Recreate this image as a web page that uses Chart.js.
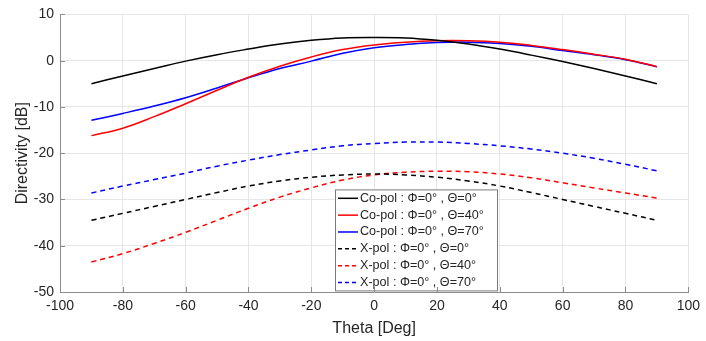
<!DOCTYPE html>
<html>
<head>
<meta charset="utf-8">
<script src="https://cdn.jsdelivr.net/npm/chart.js@4/dist/chart.umd.min.js"></script>
<style>
  html, body { margin: 0; padding: 0; background: #fff; }
  #wrap { width: 706px; height: 341px; }
</style>
</head>
<body>
<div id="wrap"><canvas id="directivity"></canvas></div>
<script>
// theta samples [deg]
const THETA = [-90, -80, -70, -60, -50, -40, -30, -20, -10, 0, 10, 20, 30, 40, 50, 60, 70, 80, 90];

// directivity [dB]
const coPol0  = [-5.0, -3.3, -1.7, -0.1, 1.3, 2.5, 3.6, 4.4, 4.9, 5.0, 4.9, 4.4, 3.6, 2.5, 1.2, -0.2, -1.7, -3.3, -5.0];
const coPol40 = [-16.2, -14.6, -12.1, -9.3, -6.4, -3.6, -1.2, 0.8, 2.4, 3.4, 4.0, 4.3, 4.3, 4.0, 3.3, 2.4, 1.4, 0.3, -1.3];
const coPol70 = [-12.9, -11.4, -9.8, -8.0, -5.9, -3.7, -1.7, -0.1, 1.6, 2.8, 3.5, 3.9, 4.0, 3.7, 3.1, 2.2, 1.3, 0.2, -1.3];
const xPol0   = [-34.5, -33.0, -31.5, -30.0, -28.5, -27.1, -26.0, -25.2, -24.7, -24.5, -24.7, -25.2, -26.0, -27.1, -28.5, -30.0, -31.5, -33.0, -34.5];
const xPol40  = [-43.5, -41.7, -39.5, -37.1, -34.5, -31.9, -29.5, -27.5, -25.8, -24.7, -24.1, -23.9, -24.0, -24.5, -25.3, -26.4, -27.5, -28.6, -29.7];
const xPol70  = [-28.6, -27.1, -25.7, -24.3, -22.8, -21.5, -20.3, -19.3, -18.4, -17.9, -17.6, -17.6, -17.9, -18.4, -19.1, -20.0, -21.1, -22.4, -23.8];

const X_TICKS = [-100, -80, -60, -40, -20, 0, 20, 40, 60, 80, 100];
const Y_TICKS = [-50, -40, -30, -20, -10, 0, 10];

const TEXT = '#262626';
const FONT = 'Liberation Sans, Arial, sans-serif';

function pts(ys) {
    return THETA.map(function (t, i) { return {x: t, y: ys[i]}; });
}

function series(label, ys, color, dashed) {
    return {
        label: label,
        data: pts(ys),
        borderColor: color,
        backgroundColor: color,
        borderWidth: 1.5,
        borderDash: dashed ? [5, 4] : [],
        pointRadius: 0,
        fill: false,
        tension: 0.4
    };
}

// legend box drawn inside the axes, MATLAB style
const boxLegend = {
    id: 'boxLegend',
    afterDatasetsDraw(chart) {
        const c = chart.ctx;
        const a = chart.chartArea;
        const x0 = a.left + 275, y0 = a.top + 175, w = 162, h = 101;
        const rowH = h / 6;
        c.save();
        c.fillStyle = '#fff';
        c.fillRect(x0, y0, w, h);
        c.strokeStyle = '#7a7a7a';
        c.lineWidth = 1;
        c.strokeRect(x0 + 0.5, y0 + 0.5, w, h);
        c.font = '12.6px ' + FONT;
        c.textBaseline = 'middle';
        chart.data.datasets.forEach(function (ds, i) {
            const cy = y0 + rowH * (i + 0.5) + 0.5;
            c.strokeStyle = ds.borderColor;
            c.lineWidth = 1.5;
            c.setLineDash(ds.borderDash.length ? [4, 3] : []);
            c.beginPath();
            c.moveTo(x0 + 3, cy);
            c.lineTo(x0 + 23, cy);
            c.stroke();
            c.setLineDash([]);
            c.fillStyle = TEXT;
            c.fillText(ds.label, x0 + 25, cy);
        });
        c.restore();
    },
    // inward tick marks
    afterDraw(chart) {
        const c = chart.ctx;
        const a = chart.chartArea;
        const xs = chart.scales.x, ys = chart.scales.y;
        c.save();
        c.strokeStyle = '#8c8c8c';
        c.lineWidth = 1;
        c.beginPath();
        X_TICKS.forEach(function (t) {
            const px = Math.round(xs.getPixelForValue(t)) + 0.5;
            c.moveTo(px, a.bottom);
            c.lineTo(px, a.bottom - 5);
        });
        Y_TICKS.forEach(function (t) {
            const py = Math.round(ys.getPixelForValue(t)) + 0.5;
            c.moveTo(a.left, py);
            c.lineTo(a.left + 5, py);
        });
        c.stroke();
        c.restore();
    }
};

new Chart(document.getElementById('directivity').getContext('2d'), {
    type: 'line',
    data: {
        datasets: [
            series('Co-pol : \u03A6=0\u00B0 , \u0398=0\u00B0', coPol0, '#000000', false),
            series('Co-pol : \u03A6=0\u00B0 , \u0398=40\u00B0', coPol40, '#ff0000', false),
            series('Co-pol : \u03A6=0\u00B0 , \u0398=70\u00B0', coPol70, '#0000ff', false),
            series('X-pol : \u03A6=0\u00B0 , \u0398=0\u00B0', xPol0, '#000000', true),
            series('X-pol : \u03A6=0\u00B0 , \u0398=40\u00B0', xPol40, '#ff0000', true),
            series('X-pol : \u03A6=0\u00B0 , \u0398=70\u00B0', xPol70, '#0000ff', true)
        ]
    },
    options: {
        responsive: true,
        maintainAspectRatio: false,
        animation: false,
        layout: { padding: { top: 12, right: 15, left: 0, bottom: 0 } },
        plugins: {
            legend: { display: false },
            tooltip: { enabled: false }
        },
        scales: {
            x: {
                type: 'linear',
                min: -100,
                max: 100,
                afterBuildTicks(scale) { scale.ticks = X_TICKS.map(function (v) { return {value: v}; }); },
                afterFit(scale) { scale.height = 49; },
                grid: { color: '#e6e6e6', drawTicks: false },
                border: { color: '#8c8c8c' },
                ticks: { color: TEXT, font: { family: FONT, size: 14 }, padding: 6, maxRotation: 0 },
                title: { display: true, text: 'Theta [Deg]', color: TEXT, font: { family: FONT, size: 16 }, padding: { top: 0, bottom: 3 } }
            },
            y: {
                min: -50,
                max: 10,
                afterBuildTicks(scale) { scale.ticks = Y_TICKS.map(function (v) { return {value: v}; }); },
                afterFit(scale) { scale.width = 60; },
                grid: { color: '#e6e6e6', drawTicks: false },
                border: { color: '#8c8c8c' },
                ticks: { color: TEXT, font: { family: FONT, size: 14 }, padding: 6 },
                title: { display: true, text: 'Directivity [dB]', color: TEXT, font: { family: FONT, size: 16 }, padding: { top: 13, bottom: 0 } }
            }
        }
    },
    plugins: [boxLegend]
});
</script>
</body>
</html>
